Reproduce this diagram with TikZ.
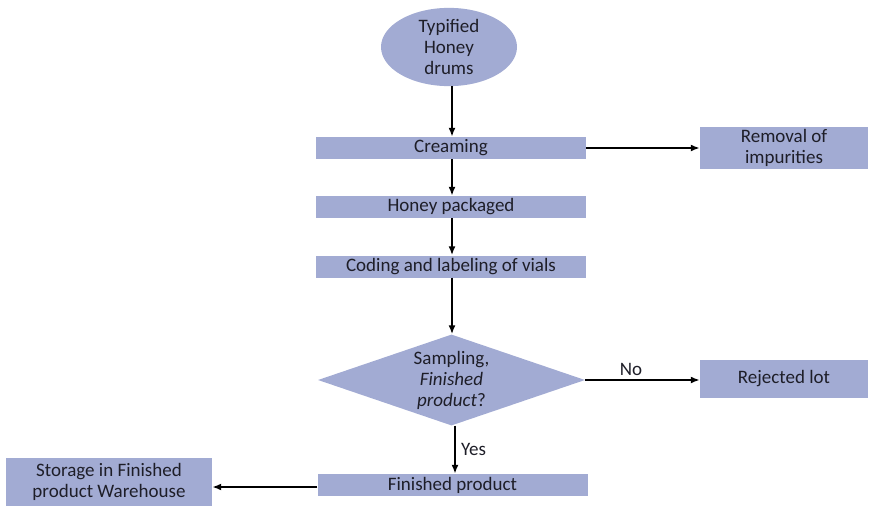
\documentclass[tikz,border=0pt]{standalone}
\usepackage{fontspec}
\setmainfont{Carlito}
\usepackage{tikz}
\usetikzlibrary{positioning,shapes.geometric,arrows.meta}
\definecolor{boxfill}{RGB}{162,171,211}
\definecolor{boxtext}{RGB}{30,30,40}

\begin{document}
\begin{tikzpicture}[
  x=1pt, y=-1pt,
  every node/.style={font=\fontsize{19}{21}\selectfont, text=boxtext},
  stepbox/.style={rectangle, fill=boxfill, inner sep=0pt, minimum width=270pt, minimum height=22pt},
  sidebox/.style={rectangle, fill=boxfill, inner sep=0pt, align=center, minimum width=168pt},
  flow/.style={-{Latex[length=9pt,width=7pt]}, line width=1.8pt, color=black}
]
  \useasboundingbox (0,0) rectangle (883,506);

  \node[ellipse, fill=boxfill, minimum width=136pt, minimum height=76pt, inner sep=0pt, align=center] (drums) at (449,47) {Typified\\Honey\\drums};
  \node[stepbox] (cream) at (451,148) {Creaming};
  \node[stepbox] (pack)  at (451,207) {Honey packaged};
  \node[stepbox] (code)  at (451,266.5) {Coding and labeling of vials};
  \node[diamond, fill=boxfill, minimum width=267pt, minimum height=91pt, inner sep=0pt, aspect=2.9, align=center] (samp) at (451.5,380) {Sampling,\\\textit{Finished}\\\textit{product}?};
  \node[stepbox] (fin)   at (452.5,485) {Finished product};

  \node[sidebox, minimum height=42pt] (impur) at (784,148) {Removal of\\impurities};
  \node[sidebox, minimum height=38pt] (rej)   at (784,379) {Rejected lot};
  \node[sidebox, minimum width=206pt, minimum height=48pt] (store) at (109,482) {Storage in Finished\\product Warehouse};

  \draw[flow] (drums.south -| 452,0) -- (cream.north -| 452,0);
  \draw[flow] (cream.south -| 452,0) -- (pack.north -| 452,0);
  \draw[flow] (pack.south -| 452,0) -- (code.north -| 452,0);
  \draw[flow] (code.south -| 452,0) -- (samp.north -| 452,0);
  \draw[flow] (samp.south -| 455,0) -- node[right, xshift=2pt]{Yes} (fin.north -| 455,0);
  \draw[flow] (cream.east) -- (impur.west);
  \draw[flow] (samp.east) -- node[above, pos=0.4]{No} (rej.west |- samp.east);
  \draw[flow] (fin.west |- 0,487) -- (store.east |- 0,487);
\end{tikzpicture}
\end{document}
